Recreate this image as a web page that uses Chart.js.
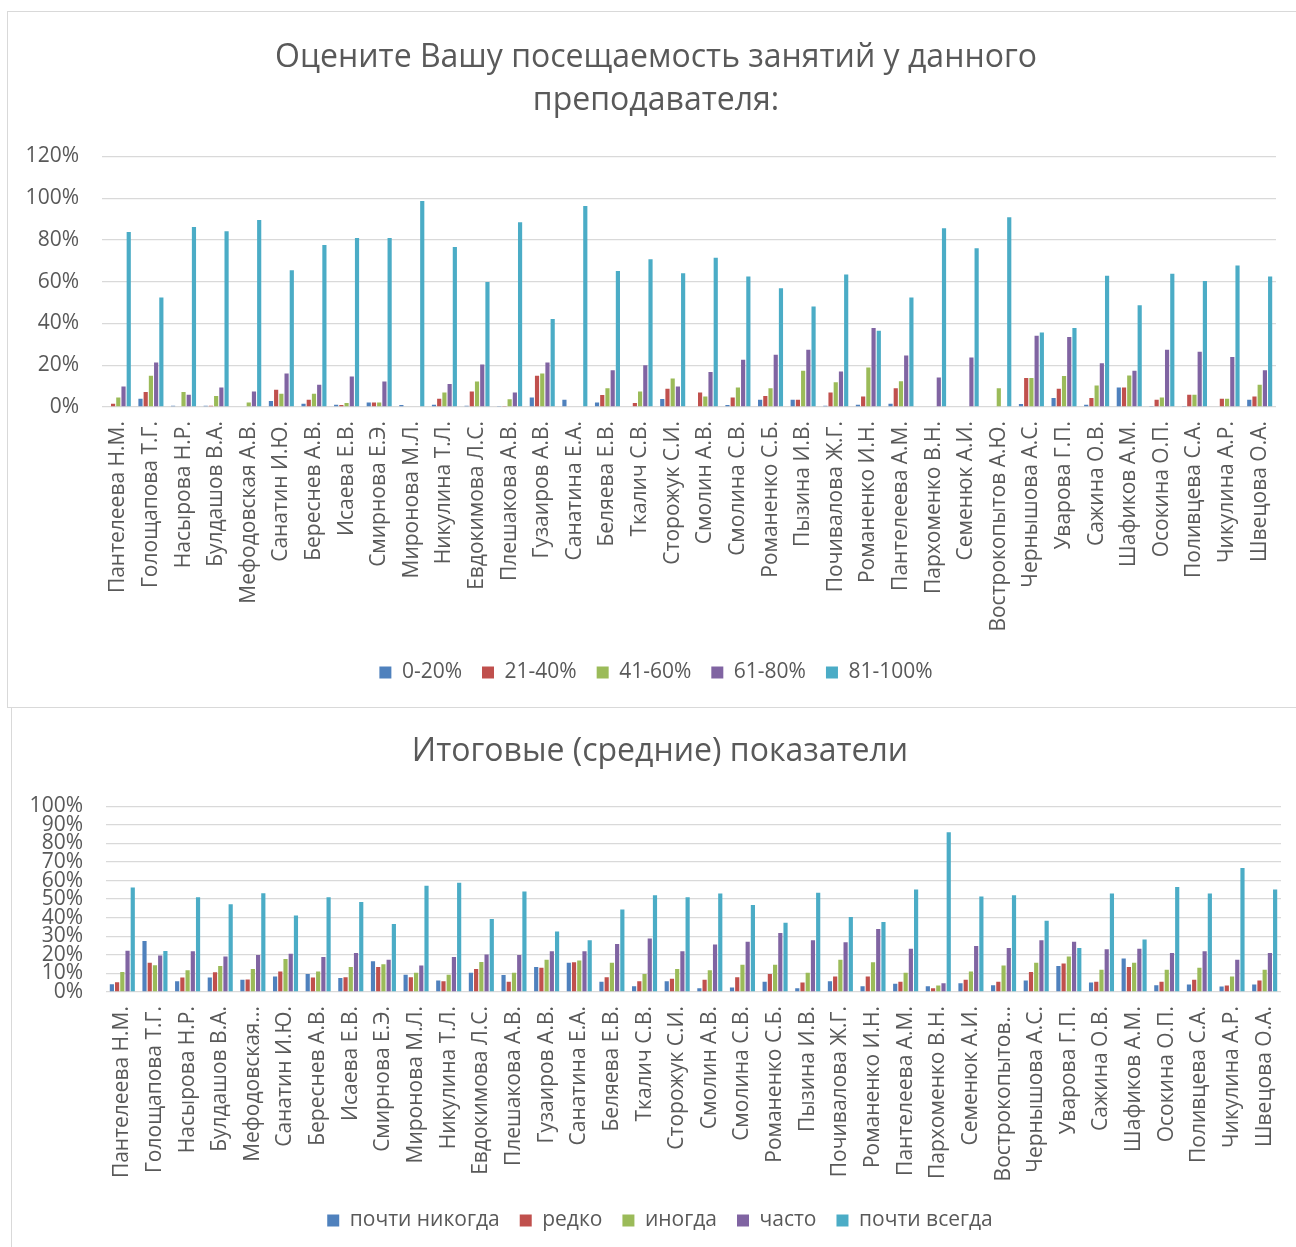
<!DOCTYPE html>
<html lang="ru">
<head>
<meta charset="utf-8">
<title>Посещаемость занятий</title>
<script src="https://cdn.jsdelivr.net/npm/chart.js@4.4.0/dist/chart.umd.min.js"></script>
<style>
  html, body { margin: 0; padding: 0; background: #fff; }
  body { width: 1296px; height: 1247px; position: relative; overflow: hidden; }
  .box { position: absolute; border: 1px solid #d9d9d9; box-sizing: border-box; }
  #boxTop { left: 7px; top: 11px; width: 1300px; height: 697px; }
  #boxBottom { left: 11px; top: 707px; width: 1300px; height: 560px; }
  .wrap { position: absolute; }
  #wrapTop { left: 8px; top: 11px; width: 1296px; height: 697px; }
  #wrapBottom { left: 12px; top: 708px; width: 1296px; height: 539px; }
</style>
</head>
<body>
<div class="box" id="boxTop"></div>
<div class="box" id="boxBottom"></div>
<div class="wrap" id="wrapTop"><canvas id="attendanceChart"></canvas></div>
<div class="wrap" id="wrapBottom"><canvas id="summaryChart"></canvas></div>

<script>
// ========================================
// DATA
// ========================================

const teachers = [
  'Пантелеева Н.М.', 'Голощапова Т.Г.', 'Насырова Н.Р.', 'Булдашов В.А.', 'Мефодовская А.В.',
  'Санатин И.Ю.', 'Береснев А.В.', 'Исаева Е.В.', 'Смирнова Е.Э.', 'Миронова М.Л.',
  'Никулина Т.Л.', 'Евдокимова Л.С.', 'Плешакова А.В.', 'Гузаиров А.В.', 'Санатина Е.А.',
  'Беляева Е.В.', 'Ткалич С.В.', 'Сторожук С.И.', 'Смолин А.В.', 'Смолина С.В.',
  'Романенко С.Б.', 'Пызина И.В.', 'Почивалова Ж.Г.', 'Романенко И.Н.', 'Пантелеева А.М.',
  'Пархоменко В.Н.', 'Семенюк А.И.', 'Вострокопытов А.Ю.', 'Чернышова А.С.', 'Уварова Г.П.',
  'Сажина О.В.', 'Шафиков А.М.', 'Осокина О.П.', 'Поливцева С.А.', 'Чикулина А.Р.', 'Швецова О.А.'
];

// Top chart: "Оцените Вашу посещаемость занятий у данного преподавателя:"
const attendanceLabels = ['0-20%', '21-40%', '41-60%', '61-80%', '81-100%'];
const att0to20 = [0, 4, 0.6, 0.6, 0.4, 2.9, 1.6, 1.1, 2.1, 1, 1.1, 0.6, 0.5, 4.6, 3.5, 2.1, 0, 3.8, 0, 1, 3.5, 3.5, 0.6, 1.1, 1.6, 0, 0, 0, 1.4, 4.3, 1.1, 9.3, 0.5, 0.5, 0, 3.5];
const att21to40 = [1.6, 7.2, 0, 0.6, 0, 8.3, 3.5, 1, 2.1, 0, 4, 7.4, 0.5, 15, 0, 5.8, 1.9, 8.7, 6.9, 4.6, 5.3, 3.5, 6.9, 5, 9, 0, 0, 0, 13.9, 8.7, 4.3, 9.3, 3.5, 5.9, 4, 5];
const att41to60 = [4.5, 15, 7.2, 5.3, 2.1, 6.4, 6.4, 1.9, 2.1, 0, 6.9, 12.2, 3.7, 16, 0, 9, 7.4, 13.6, 5, 9.3, 9, 17.3, 11.9, 18.9, 12.3, 0, 0, 9, 13.9, 14.9, 10.3, 15.1, 4.5, 5.9, 4, 10.7];
const att61to80 = [9.8, 21.3, 5.9, 9.3, 7.4, 16, 10.7, 14.6, 12.2, 0, 11, 20.4, 6.9, 21.3, 0, 17.6, 20, 9.8, 16.8, 22.6, 25, 27.4, 17, 37.8, 24.7, 14.1, 23.7, 0, 34.1, 33.5, 21, 17.3, 27.4, 26.4, 24, 17.6];
const att81to100 = [83.8, 52.4, 86.2, 84.1, 89.6, 65.5, 77.6, 80.9, 80.9, 98.7, 76.6, 59.8, 88.5, 42.1, 96.3, 65.1, 70.7, 64.1, 71.5, 62.5, 56.9, 48.1, 63.5, 36.5, 52.4, 85.6, 76, 90.9, 35.7, 37.8, 62.8, 48.7, 63.8, 60.3, 67.8, 62.5];

// Bottom chart: "Итоговые (средние) показатели"
const summaryLabels = ['почти никогда', 'редко', 'иногда', 'часто', 'почти всегда'];
const almostNever = [4.2, 27.5, 5.8, 7.8, 6.6, 8.4, 9.7, 7.5, 16.6, 9.3, 6.2, 10.4, 9.1, 13.5, 15.7, 5.5, 3.1, 5.8, 2, 2.4, 5.5, 2, 5.8, 3.1, 4.4, 3.1, 4.7, 3.6, 6.2, 14, 5.1, 18, 3.6, 4, 2.9, 4];
const rarely = [5.3, 15.7, 7.8, 10.6, 6.7, 11.1, 7.8, 8, 13.5, 8, 5.8, 12.4, 5.5, 13.1, 16, 8, 5.8, 7.1, 6.6, 8, 9.7, 5.1, 8.4, 8.4, 5.5, 2, 6.6, 5.5, 10.7, 15.3, 5.5, 13.5, 5.5, 6.6, 3.5, 6.2];
const sometimes = [10.7, 14.4, 11.7, 14, 12.4, 17.7, 11.1, 13.5, 14.9, 10.4, 9.3, 16.2, 10.4, 17.3, 16.9, 15.7, 9.7, 12.4, 11.7, 14.6, 14.6, 10.4, 17.3, 16, 10.4, 3.5, 11.1, 14.2, 15.7, 19.1, 12, 15.7, 12, 13.1, 8.4, 12];
const often = [22.2, 19.7, 21.9, 19.1, 19.9, 20.6, 18.8, 21, 17.3, 14.2, 18.9, 20.2, 19.9, 21.9, 21.9, 25.9, 28.8, 21.9, 25.5, 27.1, 31.7, 27.9, 26.8, 33.9, 23.3, 4.7, 24.8, 23.7, 27.9, 27, 23, 23.3, 21, 21.9, 17.3, 21];
const almostAlways = [56.3, 22, 51, 47.2, 53.2, 41.2, 51, 48.5, 36.6, 57.2, 58.8, 39.3, 54.1, 32.6, 27.9, 44.4, 52.1, 51, 53, 46.8, 37.3, 53.4, 40.4, 37.7, 55.2, 86, 51.4, 52.1, 38.4, 23.7, 53, 28.2, 56.5, 53, 66.7, 55.2];

const seriesColors = ['#4F81BD', '#C0504D', '#9BBB59', '#8064A2', '#4BACC6'];

// ========================================
// CHARTS
// ========================================

Chart.defaults.font.family = "'Open Sans', 'DejaVu Sans', sans-serif";
Chart.defaults.color = '#595959';
Chart.defaults.animation = false;

function buildDatasets(names, values) {
  return names.map((name, i) => ({
    label: name,
    data: values[i],
    backgroundColor: seriesColors[i],
    borderWidth: 0,
    categoryPercentage: 0.8,
    barPercentage: 0.8
  }));
}

function buildChart(canvasId, cfg) {
  const ctx = document.getElementById(canvasId).getContext('2d');
  return new Chart(ctx, {
    type: 'bar',
    data: { labels: teachers, datasets: cfg.datasets },
    options: {
      responsive: true,
      maintainAspectRatio: false,
      layout: { padding: { left: 0, right: 0, top: 0, bottom: cfg.padBottom } },
      plugins: {
        title: {
          display: true,
          text: cfg.title,
          color: '#595959',
          font: { size: 32, weight: 'normal', lineHeight: 1.35 },
          padding: cfg.titlePadding
        },
        legend: {
          position: 'bottom',
          labels: { boxWidth: 12, boxHeight: 12, font: { size: 21 }, color: '#595959', padding: 20 }
        },
        tooltip: { enabled: false }
      },
      scales: {
        x: {
          grid: { display: false },
          border: { display: false },
          afterFit: (scale) => { scale.height = cfg.xHeight; },
          ticks: {
            autoSkip: false,
            minRotation: 90,
            maxRotation: 90,
            padding: 6,
            font: { size: 21 },
            color: '#595959',
            callback: function (value) {
              const name = this.getLabelForValue(value);
              return (cfg.truncate && name.length > 15) ? name.split(' ')[0] + '...' : name;
            }
          }
        },
        y: {
          min: 0,
          max: cfg.yMax,
          grid: { color: '#d9d9d9', lineWidth: 1.3, drawTicks: false },
          border: { display: false },
          afterFit: (scale) => { scale.width = 94; },
          ticks: {
            stepSize: cfg.yStep,
            autoSkip: false,
            padding: 23,
            font: { size: 21 },
            color: '#595959',
            callback: (value) => `${value}%`
          }
        },
        // empty spacer on the right so the title and legend sit centred like the original
        spacer: {
          type: 'linear',
          position: 'right',
          grid: { display: false },
          border: { display: false },
          ticks: { display: false },
          afterFit: (scale) => { scale.width = cfg.rightGap; }
        }
      }
    }
  });
}

buildChart('attendanceChart', {
  title: ['Оцените Вашу посещаемость занятий у данного', 'преподавателя:'],
  titlePadding: { top: 25, bottom: 34 },
  datasets: buildDatasets(attendanceLabels, [att0to20, att21to40, att41to60, att61to80, att81to100]),
  yMax: 120,
  yStep: 20,
  xHeight: 235,
  rightGap: 28,
  padBottom: 15,
  truncate: false
});

buildChart('summaryChart', {
  title: 'Итоговые (средние) показатели',
  titlePadding: { top: 22, bottom: 33 },
  datasets: buildDatasets(summaryLabels, [almostNever, rarely, sometimes, often, almostAlways]),
  yMax: 100,
  yStep: 10,
  xHeight: 198,
  rightGap: 27,
  padBottom: 6,
  truncate: true
});
</script>
</body>
</html>
